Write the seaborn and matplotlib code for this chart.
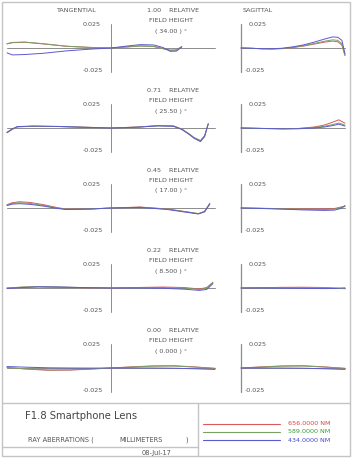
import numpy as np
import pandas as pd
import matplotlib
matplotlib.use("Agg")
import matplotlib.pyplot as plt
from matplotlib.patches import Rectangle
from matplotlib.lines import Line2D
import seaborn as sns

# wavelengths (nm) and plot labels
wavelengths = ['656.0000', '589.0000', '434.0000']
fields = ['1.00', '0.71', '0.45', '0.22', '0.00']
angles = ['34.00', '25.50', '17.00', '8.500', '0.000']

# ---- tangential fans (relative pupil, aberration in mm) ----
t1_pupil = [-1.0, -0.95, -0.83, -0.65, -0.43, -0.2, 0.0, 0.15, 0.28, 0.41, 0.5, 0.57, 0.63, 0.68]
t1_656 = [0.0042, 0.0055, 0.0060, 0.0042, 0.0018, 0.0006, 0.0, 0.0012, 0.0022, 0.0018, -0.0005, -0.0022, -0.0020, 0.0015]
t1_589 = [0.0045, 0.0058, 0.0062, 0.0045, 0.0019, 0.0006, 0.0, 0.0010, 0.0020, 0.0015, -0.0008, -0.0025, -0.0022, 0.0012]
t1_434 = [-0.0050, -0.0072, -0.0068, -0.0055, -0.0030, -0.0012, 0.0, 0.0020, 0.0035, 0.0032, 0.0005, -0.0035, -0.0032, 0.0010]

t2_pupil = [-1.0, -0.95, -0.9, -0.75, -0.5, -0.25, 0.0, 0.25, 0.45, 0.6, 0.68, 0.75, 0.8, 0.86, 0.9, 0.935]
t2_656 = [-0.0050, -0.0015, 0.0012, 0.0018, 0.0015, 0.0008, 0.0, 0.0010, 0.0025, 0.0022, -0.0010, -0.0060, -0.0100, -0.0130, -0.0080, 0.0040]
t2_589 = [-0.0048, -0.0013, 0.0013, 0.0019, 0.0016, 0.0008, 0.0, 0.0009, 0.0023, 0.0020, -0.0012, -0.0062, -0.0103, -0.0135, -0.0085, 0.0042]
t2_434 = [-0.0045, -0.0010, 0.0015, 0.0020, 0.0016, 0.0007, 0.0, 0.0008, 0.0022, 0.0018, -0.0015, -0.0066, -0.0108, -0.0142, -0.0090, 0.0045]

t3_pupil = [-1.0, -0.95, -0.88, -0.78, -0.65, -0.52, -0.43, -0.2, 0.0, 0.28, 0.54, 0.76, 0.84, 0.9, 0.95]
t3_656 = [0.0035, 0.0055, 0.0065, 0.0058, 0.0035, 0.0005, -0.0012, -0.0010, 0.0, 0.0010, -0.0010, -0.0045, -0.0060, -0.0040, 0.0045]
t3_589 = [0.0030, 0.0048, 0.0055, 0.0048, 0.0028, 0.0, -0.0014, -0.0010, 0.0, 0.0008, -0.0012, -0.0046, -0.0058, -0.0035, 0.0050]
t3_434 = [0.0025, 0.0040, 0.0045, 0.0038, 0.0020, -0.0004, -0.0016, -0.0011, 0.0, 0.0006, -0.0015, -0.0050, -0.0062, -0.0038, 0.0040]

t4_pupil = [-1.0, -0.85, -0.7, -0.5, -0.25, 0.0, 0.25, 0.5, 0.7, 0.85, 0.92, 0.98]
t4_656 = [0.0, 0.0008, 0.0012, 0.0008, 0.0003, 0.0, 0.0005, 0.0010, 0.0005, -0.0010, 0.0005, 0.0060]
t4_589 = [0.0, 0.0010, 0.0015, 0.0010, 0.0004, 0.0, 0.0003, 0.0005, 0.0, -0.0015, -0.0005, 0.0055]
t4_434 = [-0.0005, 0.0005, 0.0012, 0.0010, 0.0004, 0.0, 0.0, -0.0003, -0.0012, -0.0025, -0.0015, 0.0045]

t5_pupil = [-1.0, -0.8, -0.6, -0.4, -0.2, 0.0, 0.2, 0.4, 0.6, 0.8, 1.0]
t5_656 = [0.0005, -0.0012, -0.0024, -0.0022, -0.0012, 0.0, 0.0012, 0.0022, 0.0024, 0.0012, -0.0005]
t5_589 = [0.0003, -0.0010, -0.0020, -0.0019, -0.0010, 0.0, 0.0010, 0.0019, 0.0020, 0.0010, -0.0003]
t5_434 = [0.0015, 0.0008, 0.0002, 0.0, -0.0001, 0.0, 0.0001, 0.0, -0.0002, -0.0008, -0.0015]

# ---- sagittal fans ----
s1_pupil = [0.0, 0.1, 0.2, 0.3, 0.4, 0.5, 0.6, 0.7, 0.8, 0.88, 0.93, 0.97, 1.0]
s1_656 = [0.0, -0.0003, -0.0008, -0.0010, -0.0006, 0.0005, 0.0020, 0.0040, 0.0060, 0.0072, 0.0065, 0.0030, -0.0080]
s1_589 = [0.0, -0.0003, -0.0008, -0.0010, -0.0005, 0.0007, 0.0024, 0.0046, 0.0070, 0.0085, 0.0080, 0.0045, -0.0075]
s1_434 = [0.0, -0.0003, -0.0007, -0.0008, -0.0002, 0.0012, 0.0032, 0.0060, 0.0092, 0.0115, 0.0112, 0.0080, -0.0060]

s2_pupil = [0.0, 0.2, 0.4, 0.55, 0.7, 0.8, 0.88, 0.94, 1.0]
s2_656 = [0.0, -0.0005, -0.0008, -0.0005, 0.0010, 0.0030, 0.0060, 0.0085, 0.0050]
s2_589 = [0.0, -0.0005, -0.0008, -0.0006, 0.0005, 0.0018, 0.0035, 0.0052, 0.0030]
s2_434 = [0.0, -0.0004, -0.0009, -0.0008, 0.0, 0.0010, 0.0025, 0.0040, 0.0020]

s3_pupil = [0.0, 0.2, 0.4, 0.6, 0.8, 0.9, 0.96, 1.0]
s3_656 = [0.0, -0.0003, -0.0007, -0.0010, -0.0010, -0.0005, 0.0010, 0.0015]
s3_589 = [0.0, -0.0004, -0.0009, -0.0014, -0.0016, -0.0012, 0.0005, 0.0020]
s3_434 = [0.0, -0.0005, -0.0012, -0.0020, -0.0025, -0.0022, -0.0005, 0.0025]

s4_pupil = [0.0, 0.2, 0.4, 0.6, 0.8, 0.9, 1.0]
s4_656 = [0.0, 0.0003, 0.0007, 0.0008, 0.0005, 0.0, -0.0008]
s4_589 = [0.0, 0.0002, 0.0004, 0.0004, 0.0002, -0.0002, -0.0006]
s4_434 = [0.0, 0.0, -0.0002, -0.0004, -0.0006, -0.0005, 0.0002]

s5_pupil = [0.0, 0.2, 0.4, 0.6, 0.8, 1.0]
s5_656 = [0.0, 0.0012, 0.0022, 0.0024, 0.0012, -0.0005]
s5_589 = [0.0, 0.0010, 0.0019, 0.0020, 0.0010, -0.0003]
s5_434 = [0.0, 0.0001, 0.0, -0.0002, -0.0008, -0.0015]

tan_fans = [(t1_pupil, t1_656, t1_589, t1_434), (t2_pupil, t2_656, t2_589, t2_434),
            (t3_pupil, t3_656, t3_589, t3_434), (t4_pupil, t4_656, t4_589, t4_434),
            (t5_pupil, t5_656, t5_589, t5_434)]
sag_fans = [(s1_pupil, s1_656, s1_589, s1_434), (s2_pupil, s2_656, s2_589, s2_434),
            (s3_pupil, s3_656, s3_589, s3_434), (s4_pupil, s4_656, s4_589, s4_434),
            (s5_pupil, s5_656, s5_589, s5_434)]

colors = {'656.0000': '#d85a5a', '589.0000': '#7aa068', '434.0000': '#5a5ad0'}
text_colors = ['#d04848', '#3a9a3a', '#4848c8']
axis_col = '#8c8c8c'
txt_col = '#555555'

sns.set_theme(style='white')
plt.rcParams['font.family'] = ['DejaVu Sans']

W, H = 353, 458
fig = plt.figure(figsize=(W / 100, H / 100), dpi=100)


def fx(x):
    return x / W


def fy(y):
    return 1 - y / H


def fan_frame(pupil, r, g, b):
    rows = []
    for wl, vals in zip(wavelengths, (r, g, b)):
        for p, v in zip(pupil, vals):
            rows.append({'pupil': p, 'ey': v, 'wl': wl})
    return pd.DataFrame(rows)


def put(x, y, s, size=4.6, ha='left', color=txt_col):
    fig.text(fx(x), fy(y), s, fontsize=size, ha=ha, va='center', color=color)


for i in range(5):
    yc = 48 + 80 * i

    # tangential fan
    ax = fig.add_axes([fx(7), fy(yc + 24), fx(208), 48 / H])
    ax.set_xlim(-1, 1)
    ax.set_ylim(-0.025, 0.025)
    ax.axis('off')
    ax.axhline(0, color=axis_col, lw=0.7)
    ax.axvline(0, color=axis_col, lw=0.7)
    sns.lineplot(data=fan_frame(*tan_fans[i]), x='pupil', y='ey', hue='wl',
                 palette=colors, sort=False, legend=False, lw=0.7, ax=ax)
    for ln in ax.lines:
        ln.set_clip_on(False)

    # sagittal fan
    ax2 = fig.add_axes([fx(241), fy(yc + 24), fx(104), 48 / H])
    ax2.set_xlim(0, 1)
    ax2.set_ylim(-0.025, 0.025)
    ax2.axis('off')
    ax2.axhline(0, color=axis_col, lw=0.7)
    ax2.axvline(0, color=axis_col, lw=0.9)
    sns.lineplot(data=fan_frame(*sag_fans[i]), x='pupil', y='ey', hue='wl',
                 palette=colors, sort=False, legend=False, lw=0.7, ax=ax2)
    for ln in ax2.lines:
        ln.set_clip_on(False)

    # labels
    put(101, yc - 23, '0.025', ha='right')
    put(103, yc + 23, '-0.025', ha='right')
    put(249, yc - 23, '0.025')
    put(245, yc + 23, '-0.025')
    put(147, yc - 37, fields[i] + '    RELATIVE')
    put(149, yc - 27, 'FIELD HEIGHT')
    put(155, yc - 17, '( ' + angles[i] + ' ) \u00b0')

put(76, 11, 'TANGENTIAL', ha='center')
put(258, 11, 'SAGITTAL', ha='center')

# frame and info box
border = '#c4c4c4'
fig.add_artist(Rectangle((fx(2), fy(456)), fx(348), (454) / H, fill=False,
                         edgecolor=border, lw=1.0, transform=fig.transFigure))
fig.add_artist(Line2D([fx(2), fx(350)], [fy(403), fy(403)], color=border, lw=1.0))
fig.add_artist(Line2D([fx(198), fx(198)], [fy(403), fy(456)], color=border, lw=1.0))
fig.add_artist(Line2D([fx(2), fx(198)], [fy(447), fy(447)], color=border, lw=1.0))

put(25, 416, 'F1.8 Smartphone Lens', size=7.2, color='#444444')
put(28, 440, 'RAY ABERRATIONS (', size=4.8)
put(119, 440, 'MILLIMETERS', size=4.8)
put(185, 440, ')', size=4.8)
put(142, 453, '08-Jul-17', size=4.8)

for k, wl in enumerate(wavelengths):
    yy = 423.5 + 8.3 * k
    fig.add_artist(Line2D([fx(203), fx(280)], [fy(yy), fy(yy)], color=colors[wl], lw=0.8))
    put(288, yy, wl + ' NM', size=4.6, color=text_colors[k])

fig.savefig('out.png', dpi=100, facecolor='white')
